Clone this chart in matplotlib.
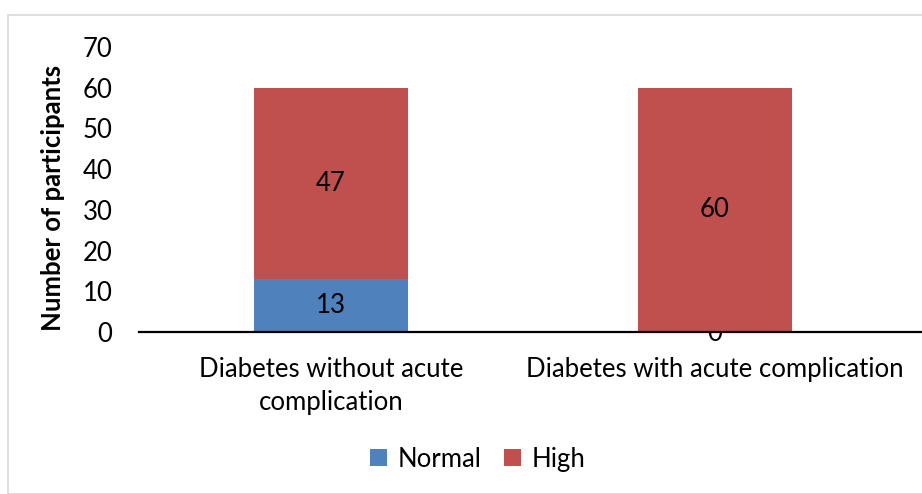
import matplotlib
matplotlib.use('Agg')
import matplotlib.pyplot as plt
from matplotlib.patches import Rectangle
from matplotlib.transforms import Bbox, TransformedBbox

plt.rcParams['font.family'] = ['Lato', 'DejaVu Sans']

categories = ['Diabetes without acute\ncomplication', 'Diabetes with acute complication']
normal = [13, 0]
high = [47, 60]
yticks = [0, 10, 20, 30, 40, 50, 60, 70]

blue = '#4f81bd'
red = '#c0504d'
fs = 18.5

fig = plt.figure(figsize=(9.22, 4.94), dpi=100)
ax = fig.add_axes([139 / 922, 162 / 494, 1 - 139 / 922, 285 / 494])

# outer chart border
fig.patches.append(Rectangle((8 / 922, 0), 1.0, 479 / 494, transform=fig.transFigure,
                             fill=False, edgecolor='#d9d9d9', linewidth=1.2))

x = list(range(len(categories)))
b1 = ax.bar(x, normal, width=0.4, color=blue, label='Normal', zorder=2)
b2 = ax.bar(x, high, width=0.4, bottom=normal, color=red, label='High', zorder=2)

for i in x:
    if normal[i] > 0:
        ax.text(i, normal[i] / 2, str(normal[i]), ha='center', va='center', fontsize=fs, zorder=3)
    else:
        t = ax.text(i, -0.4, str(normal[i]), ha='center', va='center', fontsize=fs, zorder=1)
        t.set_clip_box(TransformedBbox(Bbox([[0, -0.2], [1, 0]]), ax.transAxes))
        t.set_clip_on(True)
    ax.text(i, normal[i] + high[i] / 2, str(high[i]), ha='center', va='center', fontsize=fs, zorder=3)

ax.set_xlim(-0.5, 1.54)
ax.set_ylim(0, 70)
ax.set_yticks(yticks)
ax.set_xticks(x)
ax.set_xticklabels(categories, fontsize=fs, linespacing=1.4)
ax.tick_params(axis='y', length=0, pad=19, labelsize=fs)
ax.tick_params(axis='x', length=0, pad=18)
for s in ['top', 'right', 'left']:
    ax.spines[s].set_visible(False)
ax.spines['bottom'].set_linewidth(1.6)
ax.spines['bottom'].set_zorder(4)

ax.set_ylabel('Number of participants', fontsize=fs, fontweight='bold')
ax.yaxis.set_label_coords(-0.094, 0.47)

fig.legend(handles=[b1, b2], loc='center', bbox_to_anchor=(0.518, 35 / 494), ncol=2,
           frameon=False, fontsize=fs, handlelength=0.65, handleheight=0.65,
           handletextpad=0.4, columnspacing=0.9)

fig.savefig('out.png', dpi=100)
